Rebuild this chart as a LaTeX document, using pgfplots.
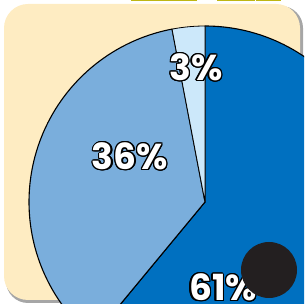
\documentclass[border=0pt]{standalone}
\usepackage{pgfplots}
\pgfplotsset{compat=1.18}
\usepackage{fontspec}
\setmainfont{Poppins}
\usepackage{contour}
\contourlength{1.3pt}
\definecolor{cream}{RGB}{254,236,194}
\definecolor{dblue}{RGB}{0,112,192}
\definecolor{lblue}{RGB}{122,174,220}
\definecolor{vlblue}{RGB}{204,232,250}
\definecolor{olive}{RGB}{190,182,20}
\definecolor{blk}{RGB}{35,31,32}
\newcommand{\lab}[1]{\contour{black}{\textcolor{white}{\bfseries #1}}}
\begin{document}
\begin{tikzpicture}
\def\pA{61}\def\pB{36}\def\pC{3}
\pgfmathsetmacro{\aA}{90-3.6*\pA}
\pgfmathsetmacro{\aB}{\aA-3.6*\pB+360}
\pgfmathsetmacro{\aBs}{\aA+360}
\begin{axis}[width=304pt,height=304pt,scale only axis,
  xmin=0,xmax=304,ymin=0,ymax=304,hide axis,clip=true]
\coordinate (ll) at (rel axis cs:0,0);
\coordinate (ur) at (rel axis cs:1,1);
% shadow and background
\fill[black!35,rounded corners=22pt] (axis cs:6,1) rectangle (axis cs:303,298);
\fill[cream,rounded corners=24pt] (axis cs:4,4) rectangle (axis cs:300,300);
\fill[olive] (axis cs:131,302.5) rectangle (axis cs:197,304);
\fill[olive] (axis cs:217,302.5) rectangle (axis cs:255,304);
\fill[olive] (axis cs:256,302.5) rectangle (axis cs:281,304);
% pie slices
\addplot[fill=dblue,draw=black,line width=1.1pt,line join=round,domain=\aA:90,samples=150]
  ({205+176*cos(x)},{102+176*sin(x)}) -- (axis cs:205,102) -- cycle;
\addplot[fill=lblue,draw=black,line width=1.1pt,line join=round,domain=\aB:\aBs,samples=100]
  ({205+176*cos(x)},{102+176*sin(x)}) -- (axis cs:205,102) -- cycle;
\addplot[fill=vlblue,draw=black,line width=0.8pt,line join=round,domain=90:\aB,samples=10]
  ({205+176*cos(x)},{102+176*sin(x)}) -- (axis cs:205,102) -- cycle;
% labels
\node[font=\fontsize{36}{36}\selectfont] at (axis cs:196,236) {\lab{\pC\%}};
\node[font=\fontsize{36}{36}\selectfont] at (axis cs:130,147) {\lab{\pB\%}};
\node[font=\fontsize{36}{36}\selectfont] at (axis cs:223,16) {\lab{\pA\%}};
\fill[blk] (axis cs:269,34) circle[radius=28];
\end{axis}
\pgfresetboundingbox
\path[use as bounding box] (ll) rectangle (ur);
\end{tikzpicture}
\end{document}
